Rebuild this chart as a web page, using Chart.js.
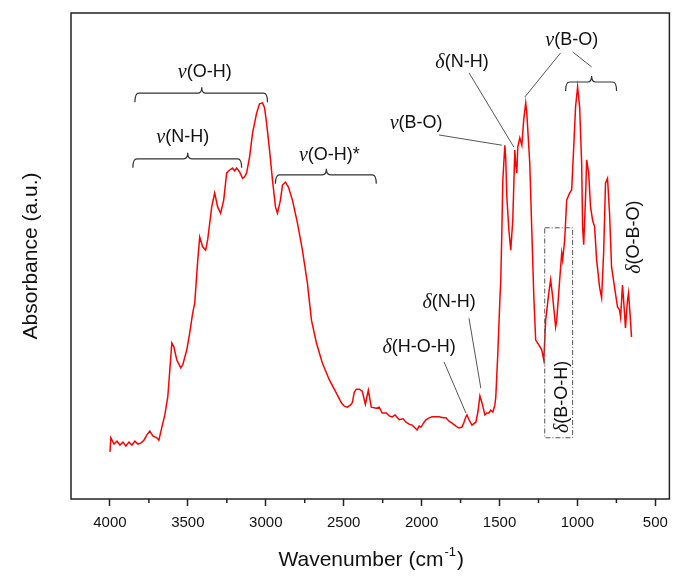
<!DOCTYPE html>
<html lang="en">
<head>
    <meta charset="UTF-8">
    <title>FTIR Spectrum</title>
    <script src="https://cdn.jsdelivr.net/npm/chart.js"></script>
    <style>
        body { margin: 0; background: #fff; }
    </style>
</head>
<body>
    <canvas id="irChart" width="676" height="581"></canvas>
    <script>
        // spectrum
        const wavenumber = [
            4000, 3994, 3974, 3955, 3936, 3917, 3898, 3878, 3859, 3840, 3821, 3802, 3782, 3763, 3744, 3725,
            3699, 3686, 3667, 3648, 3629, 3616, 3603, 3590, 3571, 3546, 3533, 3507, 3488, 3469, 3456, 3437,
            3424, 3405, 3386, 3373, 3347, 3328, 3309, 3290, 3270, 3251, 3232, 3213, 3200, 3187, 3168, 3149,
            3136, 3123, 3104, 3085, 3059, 3040, 3021, 3008, 2995, 2976, 2957, 2938, 2925, 2906, 2893, 2874,
            2855, 2829, 2797, 2765, 2733, 2707, 2675, 2637, 2592, 2547, 2515, 2496, 2477, 2458, 2445, 2432,
            2419, 2400, 2381, 2361, 2342, 2323, 2291, 2272, 2253, 2227, 2208, 2189, 2170, 2144, 2119, 2100,
            2080, 2061, 2042, 2029, 2016, 2004, 1984, 1972, 1952, 1933, 1908, 1888, 1863, 1844, 1824, 1805,
            1780, 1760, 1741, 1728, 1716, 1709, 1696, 1677, 1652, 1639, 1626, 1613, 1594, 1581, 1568, 1556,
            1543, 1530, 1524, 1511, 1498, 1492, 1485, 1479, 1466, 1460, 1453, 1440, 1428, 1415, 1402, 1396,
            1389, 1383, 1370, 1357, 1345, 1332, 1325, 1306, 1293, 1280, 1268, 1248, 1229, 1216, 1204, 1184,
            1172, 1159, 1140, 1133, 1114, 1101, 1095, 1082, 1069, 1050, 1037, 1024, 1012, 999, 986, 973,
            967, 960, 948, 941, 928, 916, 903, 890, 877, 858, 845, 832, 820, 807, 794, 781,
            762, 743, 730, 723, 711, 698, 692, 679, 672, 660, 653
        ];
        const absorbance = [
            0.097, 0.126, 0.113, 0.119, 0.111, 0.117, 0.109, 0.117, 0.111, 0.119, 0.113, 0.115, 0.121, 0.132, 0.140, 0.130,
            0.126, 0.121, 0.148, 0.173, 0.210, 0.265, 0.321, 0.313, 0.286, 0.270, 0.276, 0.307, 0.342, 0.383, 0.403, 0.490,
            0.539, 0.519, 0.512, 0.533, 0.601, 0.630, 0.601, 0.588, 0.615, 0.671, 0.677, 0.681, 0.675, 0.681, 0.673, 0.660,
            0.663, 0.671, 0.704, 0.753, 0.794, 0.813, 0.815, 0.805, 0.774, 0.718, 0.656, 0.601, 0.588, 0.615, 0.646, 0.652,
            0.642, 0.615, 0.568, 0.512, 0.444, 0.368, 0.321, 0.280, 0.245, 0.218, 0.198, 0.191, 0.189, 0.193, 0.198, 0.220,
            0.226, 0.226, 0.222, 0.195, 0.224, 0.189, 0.187, 0.189, 0.177, 0.177, 0.171, 0.169, 0.173, 0.163, 0.165, 0.158,
            0.154, 0.152, 0.146, 0.142, 0.150, 0.148, 0.158, 0.163, 0.167, 0.169, 0.169, 0.169, 0.167, 0.167, 0.160, 0.156,
            0.150, 0.146, 0.148, 0.158, 0.169, 0.173, 0.163, 0.152, 0.158, 0.179, 0.212, 0.198, 0.173, 0.177, 0.177, 0.183,
            0.179, 0.193, 0.210, 0.300, 0.409, 0.451, 0.553, 0.656, 0.728, 0.698, 0.621, 0.553, 0.512, 0.574, 0.718, 0.687,
            0.671, 0.724, 0.743, 0.728, 0.780, 0.815, 0.794, 0.691, 0.553, 0.416, 0.327, 0.317, 0.307, 0.286, 0.368, 0.424,
            0.451, 0.416, 0.354, 0.368, 0.451, 0.506, 0.492, 0.533, 0.615, 0.630, 0.636, 0.724, 0.807, 0.848, 0.807, 0.691,
            0.560, 0.523, 0.621, 0.698, 0.671, 0.601, 0.574, 0.560, 0.492, 0.436, 0.414, 0.506, 0.650, 0.660, 0.588, 0.477,
            0.436, 0.395, 0.389, 0.374, 0.440, 0.383, 0.352, 0.409, 0.424, 0.368, 0.333
        ];
        const majorTicks = [4000, 3500, 3000, 2500, 2000, 1500, 1000, 500];
        const minorTicks = [3750, 3250, 2750, 2250, 1750, 1250, 750];

        // band assignments, positioned in wavenumber / absorbance units
        const bracketLabels = [
            { greek: 'ν', text: '(O-H)', at: [3392, 0.879], from: 3840, to: 2989, mid: 3411, level: 0.835 },
            { greek: 'ν', text: '(N-H)', at: [3533, 0.745], from: 3853, to: 3155, mid: 3501, level: 0.700 },
            { greek: 'ν', text: '(O-H)*', at: [2592, 0.708], from: 2938, to: 2291, mid: 2611, level: 0.667 },
            { greek: 'ν', text: '(B-O)', at: [1037, 0.944], from: 1076, to: 749, mid: 909, level: 0.858 }
        ];
        const leaderLabels = [
            { greek: 'δ', text: '(N-H)', at: [1741, 0.899], line: [1696, 0.877, 1408, 0.724] },
            { greek: 'ν', text: '(B-O)', at: [2035, 0.774], line: [1888, 0.749, 1485, 0.728] },
            { greek: 'δ', text: '(N-H)', at: [1824, 0.405], line: [1696, 0.372, 1620, 0.228] },
            { greek: 'δ', text: '(H-O-H)', at: [2016, 0.313], line: [1856, 0.282, 1716, 0.177] },
            { greek: '', text: '', at: null, line: [1108, 0.918, 1338, 0.827] },
            { greek: '', text: '', at: null, line: [1031, 0.920, 909, 0.889] }
        ];
        const verticalLabels = [
            { greek: 'δ', text: '(B-O-H)', at: [1101, 0.210] },
            { greek: 'δ', text: '(O-B-O)', at: [640, 0.539] }
        ];
        const bohBox = [1210, 1031, 0.558, 0.126];

        const SANS = "'Liberation Sans', Arial, sans-serif";
        const SERIF = "'Liberation Serif', 'Times New Roman', serif";

        function drawLabel(ctx, greek, text, cx, cy) {
            ctx.textBaseline = 'middle';
            ctx.textAlign = 'left';
            ctx.font = 'italic 20px ' + SERIF;
            const gw = ctx.measureText(greek).width;
            ctx.font = '18px ' + SANS;
            const tw = ctx.measureText(text).width;
            let x = cx - (gw + tw) / 2;
            ctx.font = 'italic 20px ' + SERIF;
            ctx.fillText(greek, x, cy + 1);
            ctx.font = '18px ' + SANS;
            ctx.fillText(text, x + gw, cy);
        }

        function brace(ctx, x1, x2, xm, y) {
            ctx.beginPath();
            ctx.moveTo(x1, y + 9);
            ctx.quadraticCurveTo(x1, y, x1 + 4, y);
            ctx.lineTo(xm - 4, y);
            ctx.quadraticCurveTo(xm, y, xm, y - 6);
            ctx.quadraticCurveTo(xm, y, xm + 4, y);
            ctx.lineTo(x2 - 4, y);
            ctx.quadraticCurveTo(x2, y, x2, y + 9);
            ctx.stroke();
        }

        const decorations = {
            id: 'decorations',
            afterDraw(chart) {
                const ctx = chart.ctx;
                const xs = chart.scales.x, ys = chart.scales.y;
                const X = v => xs.getPixelForValue(v);
                const Y = v => ys.getPixelForValue(v);
                const area = chart.chartArea;
                ctx.save();

                // frame
                ctx.strokeStyle = '#222';
                ctx.lineWidth = 1.5;
                ctx.strokeRect(area.left, area.top, area.right - area.left, area.bottom - area.top);

                // minor ticks
                ctx.beginPath();
                minorTicks.forEach(t => {
                    ctx.moveTo(X(t), area.bottom);
                    ctx.lineTo(X(t), area.bottom + 4);
                });
                ctx.stroke();

                // axis titles
                ctx.fillStyle = '#111';
                ctx.textBaseline = 'middle';
                ctx.font = '21px ' + SANS;
                const main = 'Wavenumber (cm', sup = '-1', close = ')';
                const w1 = ctx.measureText(main).width;
                const w3 = ctx.measureText(close).width;
                ctx.font = '13px ' + SANS;
                const w2 = ctx.measureText(sup).width;
                let tx = (area.left + area.right) / 2 - (w1 + w2 + w3) / 2;
                const ty = 560;
                ctx.textAlign = 'left';
                ctx.font = '21px ' + SANS;
                ctx.fillText(main, tx, ty);
                ctx.font = '13px ' + SANS;
                ctx.fillText(sup, tx + w1 + 1, ty - 8);
                ctx.font = '21px ' + SANS;
                ctx.fillText(close, tx + w1 + w2 + 2, ty);

                ctx.save();
                ctx.translate(31, (area.top + area.bottom) / 2);
                ctx.rotate(-Math.PI / 2);
                ctx.textAlign = 'center';
                ctx.fillText('Absorbance (a.u.)', 0, 0);
                ctx.restore();

                // braces
                ctx.strokeStyle = '#333';
                ctx.lineWidth = 1.2;
                bracketLabels.forEach(b => {
                    brace(ctx, X(b.from), X(b.to), X(b.mid), Y(b.level));
                    drawLabel(ctx, b.greek, b.text, X(b.at[0]), Y(b.at[1]));
                });

                // leader lines
                ctx.strokeStyle = '#555';
                ctx.lineWidth = 1;
                leaderLabels.forEach(l => {
                    ctx.beginPath();
                    ctx.moveTo(X(l.line[0]), Y(l.line[1]));
                    ctx.lineTo(X(l.line[2]), Y(l.line[3]));
                    ctx.stroke();
                    if (l.at) drawLabel(ctx, l.greek, l.text, X(l.at[0]), Y(l.at[1]));
                });

                // dash-dot box around the B-O-H band
                ctx.setLineDash([5, 2, 1, 2]);
                ctx.strokeStyle = '#555';
                ctx.strokeRect(X(bohBox[0]), Y(bohBox[2]), X(bohBox[1]) - X(bohBox[0]), Y(bohBox[3]) - Y(bohBox[2]));
                ctx.setLineDash([]);

                verticalLabels.forEach(v => {
                    ctx.save();
                    ctx.translate(X(v.at[0]), Y(v.at[1]));
                    ctx.rotate(-Math.PI / 2);
                    drawLabel(ctx, v.greek, v.text, 0, 0);
                    ctx.restore();
                });

                ctx.restore();
            }
        };

        const points = wavenumber.map((w, i) => ({ x: w, y: absorbance[i] }));

        new Chart(document.getElementById('irChart'), {
            type: 'line',
            data: {
                datasets: [{
                    data: points,
                    borderColor: '#ff0000',
                    borderWidth: 1.5,
                    pointRadius: 0,
                    tension: 0,
                    fill: false
                }]
            },
            options: {
                responsive: false,
                animation: false,
                layout: { padding: { left: 71, right: 5, top: 13, bottom: 0 } },
                plugins: {
                    legend: { display: false },
                    tooltip: { enabled: false }
                },
                scales: {
                    x: {
                        type: 'linear',
                        reverse: true,
                        min: 410,
                        max: 4250,
                        afterBuildTicks: s => { s.ticks = majorTicks.map(v => ({ value: v })); },
                        afterFit: s => { s.height = 82; },
                        border: { display: false },
                        grid: {
                            drawOnChartArea: false,
                            drawTicks: true,
                            tickLength: 7,
                            tickColor: '#222',
                            tickWidth: 1.5
                        },
                        ticks: {
                            autoSkip: false,
                            maxRotation: 0,
                            padding: 8,
                            color: '#111',
                            font: { size: 15, family: SANS },
                            callback: v => String(v)
                        }
                    },
                    y: {
                        display: false,
                        min: 0,
                        max: 1
                    }
                }
            },
            plugins: [decorations]
        });
    </script>
</body>
</html>
